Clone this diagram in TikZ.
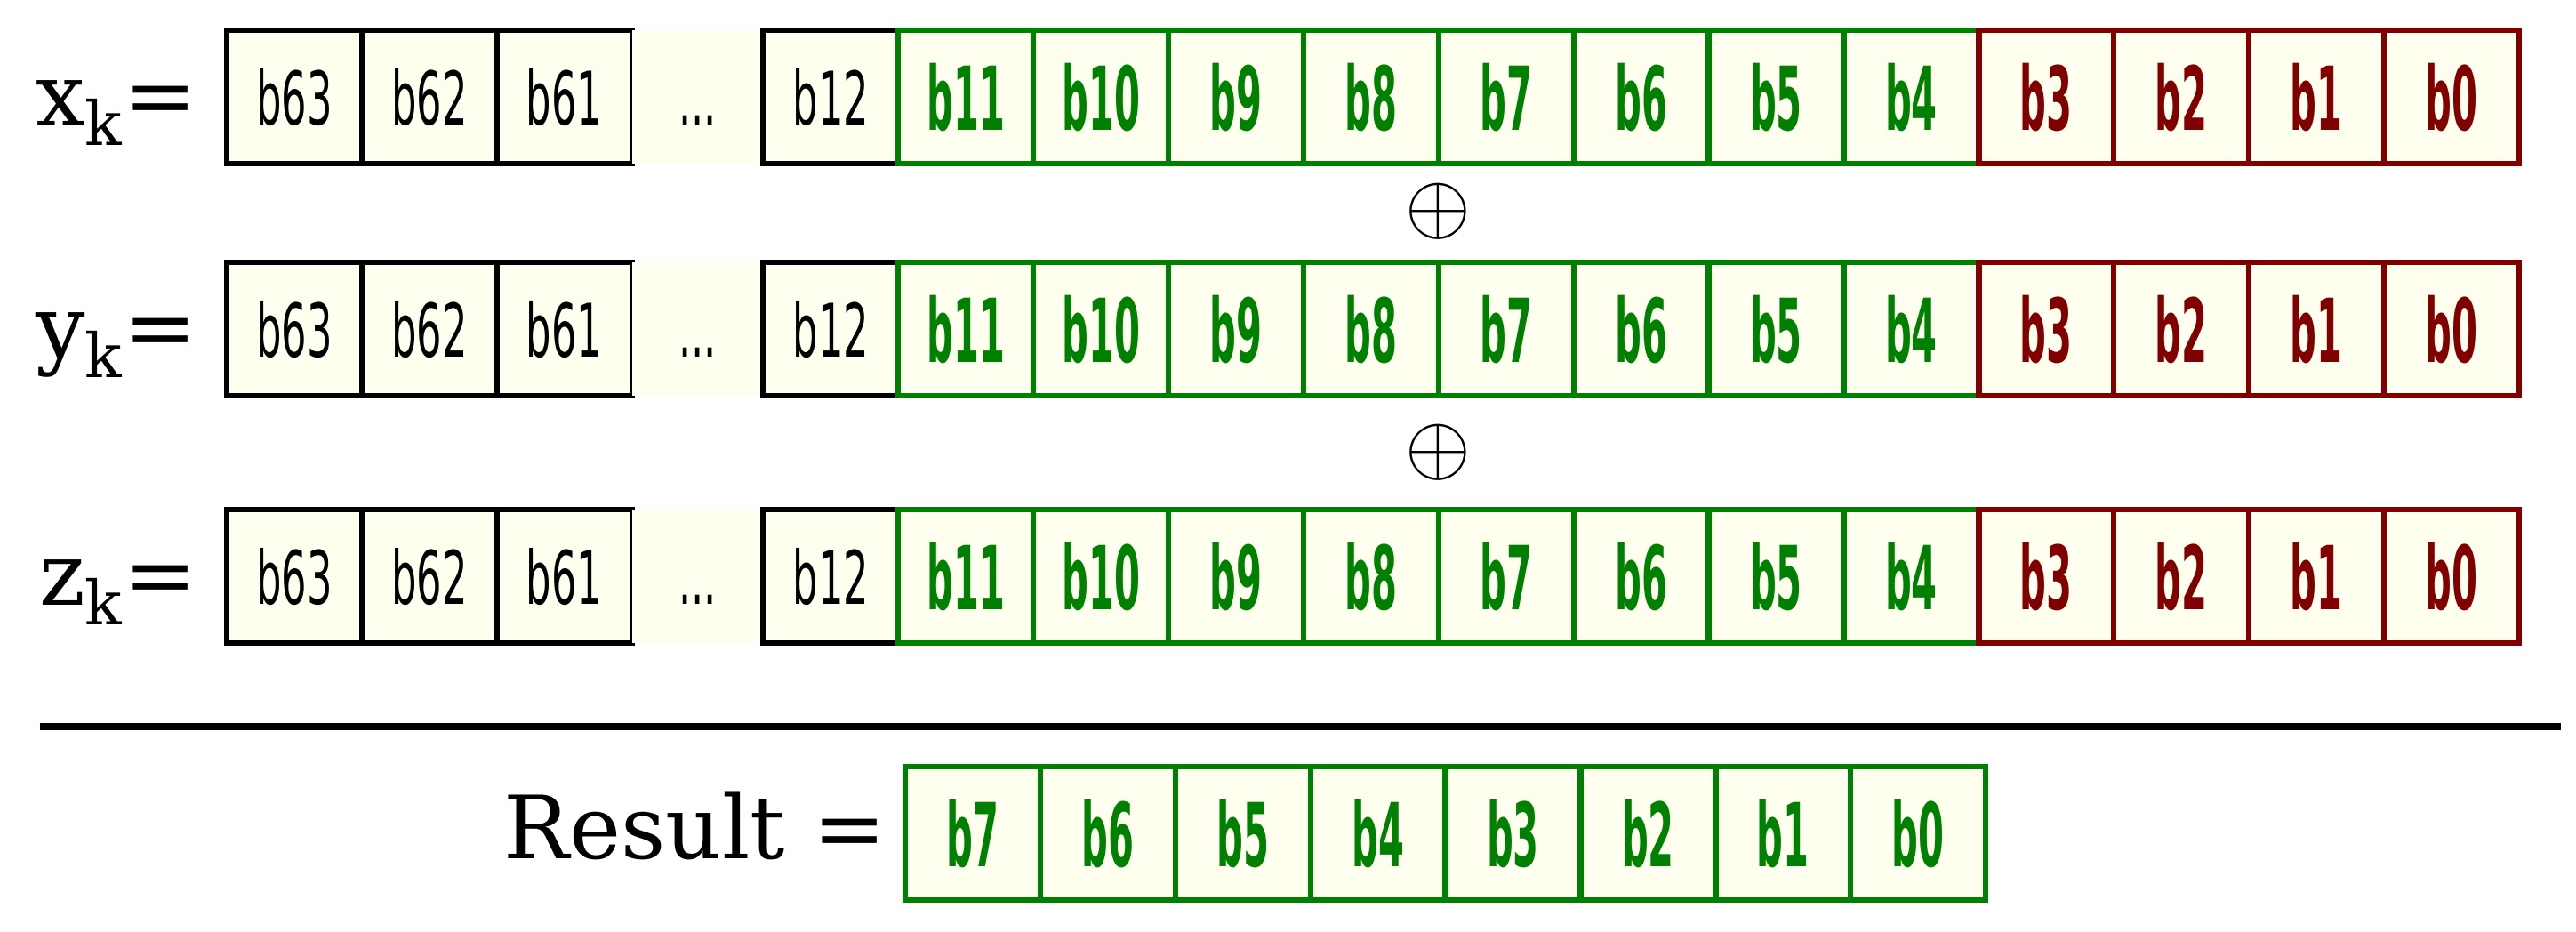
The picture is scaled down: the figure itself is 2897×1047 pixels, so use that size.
\documentclass[tikz,border=0pt]{standalone}
\usepackage{fontspec}
\usepackage{graphicx}
\setmainfont{DejaVu Serif}
\newfontfamily\cellfont[FakeStretch=0.54]{DejaVu Sans}
\newfontfamily\cellboldfont[FakeStretch=0.42]{DejaVu Sans}
\usetikzlibrary{positioning}

\definecolor{cellfill}{HTML}{FFFFF0}
\definecolor{bitgreen}{HTML}{008000}
\definecolor{bitred}{HTML}{800000}

\tikzset{
  cell/.style={draw=black, fill=cellfill, line width=1.8pt,
    minimum width=1.518cm, minimum height=1.5cm, inner sep=0pt, outer sep=0pt,
    font={\cellfont\fontsize{23.6}{24}\selectfont}},
  lowbit/.style={cell, draw=bitgreen, text=bitgreen,
    font={\cellboldfont\bfseries\fontsize{28.2}{29}\selectfont}},
  nibble/.style={lowbit, draw=bitred, text=bitred},
  gapcell/.style={cell, draw=none, minimum width=1.476cm},
  rowlabel/.style={inner sep=0pt, font={\fontsize{27.9}{30}\selectfont}},
  xorsign/.style={inner sep=0pt},
  sumline/.style={line width=2.4pt}
}

\begin{document}
\begin{tikzpicture}[x=0.01cm, y=-0.01cm]
    \useasboundingbox (0,0) rectangle (2897,1047);

    % the three operand words
    \foreach \row/\top in {x/34, y/295, z/573} {
        \node[cell, anchor=north west] (\row63) at (255,\top) {b63};
        \node[cell, right=0pt of \row63] (\row62) {b62};
        \node[cell, right=0pt of \row62] (\row61) {b61};
        \node[gapcell, right=0pt of \row61] (\row-gap) {\vphantom{b}...};
        \node[cell, right=0pt of \row-gap] (\row12) {b12};
        \foreach \b [evaluate=\b as \prev using int(\b+1)] in {11,...,4}
            \node[lowbit, right=0pt of \row\prev] (\row\b) {b\b};
        \foreach \b [evaluate=\b as \prev using int(\b+1)] in {3,...,0}
            \node[nibble, right=0pt of \row\prev] (\row\b) {b\b};
        \node[rowlabel, anchor=base east] (\row-label) at (222,\top+107) {\row\textsubscript{k}=};
    }

    \node[xorsign] (xor1) at (1617,238) {\scalebox{2.7}{$\oplus$}};
    \node[xorsign] (xor2) at (1617,509) {\scalebox{2.7}{$\oplus$}};

    % sum rule
    \coordinate (rule-l) at (45,817);
    \coordinate (rule-r) at (2880,817);
    \draw[sumline] (rule-l) -- (rule-r);

    % result byte
    \node[lowbit, anchor=north west] (r7) at (1018,862) {b7};
    \foreach \b [evaluate=\b as \prev using int(\b+1)] in {6,...,0}
        \node[lowbit, right=0pt of r\prev] (r\b) {b\b};
    \node[rowlabel, anchor=base east] (r-label) at (997,965) {Result =};
\end{tikzpicture}
\end{document}
